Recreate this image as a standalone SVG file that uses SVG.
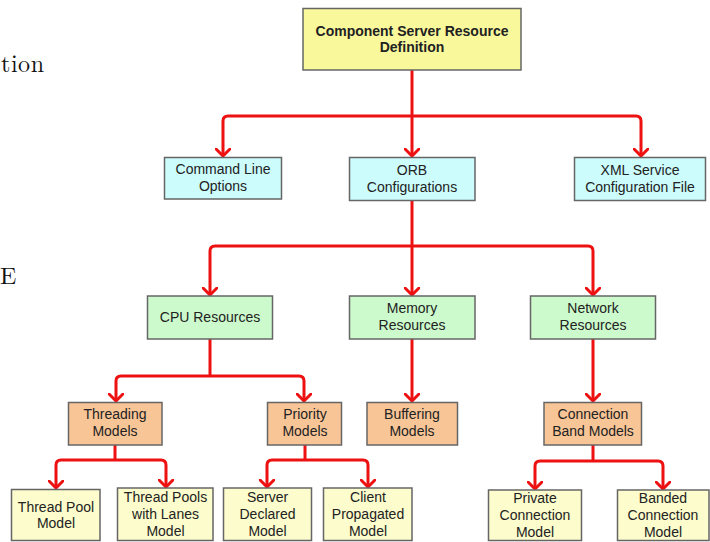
<svg xmlns="http://www.w3.org/2000/svg" width="710" height="542" viewBox="0 0 710 542">
<defs>
<style>
.box{stroke:#666;stroke-width:1.5}
.y1{fill:#F9F99C}
.c{fill:#CCFCFC}
.g{fill:#CCFACC}
.o{fill:#F8C597}
.y2{fill:#FCFCCC}
text{font-family:"Liberation Sans",Arial,sans-serif;font-size:14px;fill:#222;text-anchor:middle}
.b{font-weight:bold}
.page{font-family:"Latin Modern Roman","Liberation Serif",serif;font-size:24px;fill:#111;text-anchor:start}
.con{fill:none;stroke:#EE1111;stroke-width:3;stroke-linejoin:round;marker-end:url(#arr)}
.trunk{fill:none;stroke:#EE1111;stroke-width:3}
</style>
<marker id="arr" markerUnits="userSpaceOnUse" markerWidth="16" markerHeight="16" refX="8" refY="8" orient="auto" viewBox="0 0 16 16">
<path d="M1,1 L8,8 L1,15" fill="none" stroke="#EE1111" stroke-width="3" stroke-linecap="round" stroke-linejoin="round"/>
</marker>
</defs>
<rect width="710" height="542" fill="#fff"/>
<text class="page" x="1" y="72" textLength="43">tion</text>
<text class="page" x="0" y="284">E</text>

<g id="connectors">
<path class="trunk" d="M412,70 V116"/>
<path class="con" d="M412,116 H228 Q223,116 223,121 V156"/>
<path class="con" d="M412,116 V156"/>
<path class="con" d="M412,116 H636 Q641,116 641,121 V156"/>
<path class="trunk" d="M412,201 V246"/>
<path class="con" d="M412,246 H215 Q210,246 210,251 V295"/>
<path class="con" d="M412,246 V295"/>
<path class="con" d="M412,246 H588 Q593,246 593,251 V295"/>
<path class="trunk" d="M210,339 V376"/>
<path class="con" d="M210,376 H121 Q116,376 116,381 V401"/>
<path class="con" d="M210,376 H299 Q304,376 304,381 V401"/>
<path class="con" d="M412,339 V401"/>
<path class="con" d="M593,339 V401"/>
<path class="trunk" d="M115,445 V460"/>
<path class="con" d="M115,460 H61 Q56,460 56,465 V488"/>
<path class="con" d="M115,460 H161 Q166,460 166,465 V487"/>
<path class="trunk" d="M305,445 V460"/>
<path class="con" d="M305,460 H272 Q267,460 267,465 V487"/>
<path class="con" d="M305,460 H363 Q368,460 368,465 V487"/>
<path class="trunk" d="M593,445 V461"/>
<path class="con" d="M593,461 H540 Q535,461 535,466 V489"/>
<path class="con" d="M593,461 H658 Q663,461 663,466 V489"/>
</g>

<g id="n-root">
<rect class="box y1" x="303" y="8.5" width="218" height="61.5"/>
<text class="b" x="412" y="36">Component Server Resource</text>
<text class="b" x="412" y="52">Definition</text>
</g>

<g id="n-cmdline">
<rect class="box c" x="164.5" y="157.5" width="117" height="41.5"/>
<text x="223" y="174">Command Line</text>
<text x="223" y="191">Options</text>
</g>
<g id="n-orb">
<rect class="box c" x="349.5" y="157.5" width="125.5" height="43"/>
<text x="412" y="174.5">ORB</text>
<text x="412" y="191.5">Configurations</text>
</g>
<g id="n-xml">
<rect class="box c" x="574.5" y="157.5" width="131" height="43"/>
<text x="640" y="175">XML Service</text>
<text x="640" y="191.5">Configuration File</text>
</g>

<g id="n-cpu">
<rect class="box g" x="147.5" y="296" width="125" height="43"/>
<text x="210" y="322">CPU Resources</text>
</g>
<g id="n-memory">
<rect class="box g" x="349.5" y="296" width="125.5" height="43"/>
<text x="412" y="313">Memory</text>
<text x="412" y="330">Resources</text>
</g>
<g id="n-network">
<rect class="box g" x="530.5" y="296" width="125" height="43"/>
<text x="593" y="313">Network</text>
<text x="593" y="330">Resources</text>
</g>

<g id="n-threading">
<rect class="box o" x="68.5" y="402.5" width="93.5" height="42.5"/>
<text x="115" y="419">Threading</text>
<text x="115" y="436">Models</text>
</g>
<g id="n-priority">
<rect class="box o" x="267.5" y="402.5" width="74" height="42.5"/>
<text x="305" y="419">Priority</text>
<text x="305" y="436">Models</text>
</g>
<g id="n-buffering">
<rect class="box o" x="367" y="402.5" width="90.5" height="42.5"/>
<text x="412" y="419">Buffering</text>
<text x="412" y="436">Models</text>
</g>
<g id="n-connband">
<rect class="box o" x="544" y="402.5" width="97.5" height="42.5"/>
<text x="593" y="419">Connection</text>
<text x="593" y="436">Band Models</text>
</g>

<g id="n-threadpool">
<rect class="box y2" x="11.5" y="489.5" width="88.5" height="51"/>
<text x="56" y="511.5">Thread Pool</text>
<text x="56" y="528">Model</text>
</g>
<g id="n-threadpools-lanes">
<rect class="box y2" x="117.5" y="488" width="95.5" height="52.5"/>
<text x="165.5" y="501.5">Thread Pools</text>
<text x="165.5" y="519">with Lanes</text>
<text x="165.5" y="536">Model</text>
</g>
<g id="n-server">
<rect class="box y2" x="223.5" y="488" width="88" height="52.5"/>
<text x="267.5" y="501.5">Server</text>
<text x="267.5" y="519">Declared</text>
<text x="267.5" y="536">Model</text>
</g>
<g id="n-client">
<rect class="box y2" x="323.5" y="488" width="88.5" height="52.5"/>
<text x="368" y="501.5">Client</text>
<text x="368" y="519">Propagated</text>
<text x="368" y="536">Model</text>
</g>
<g id="n-private">
<rect class="box y2" x="488.5" y="490" width="93" height="50.5"/>
<text x="535" y="503">Private</text>
<text x="535" y="520">Connection</text>
<text x="535" y="536.5">Model</text>
</g>
<g id="n-banded">
<rect class="box y2" x="617.5" y="490" width="91.5" height="50.5"/>
<text x="663" y="503">Banded</text>
<text x="663" y="520">Connection</text>
<text x="663" y="536.5">Model</text>
</g>
</svg>
